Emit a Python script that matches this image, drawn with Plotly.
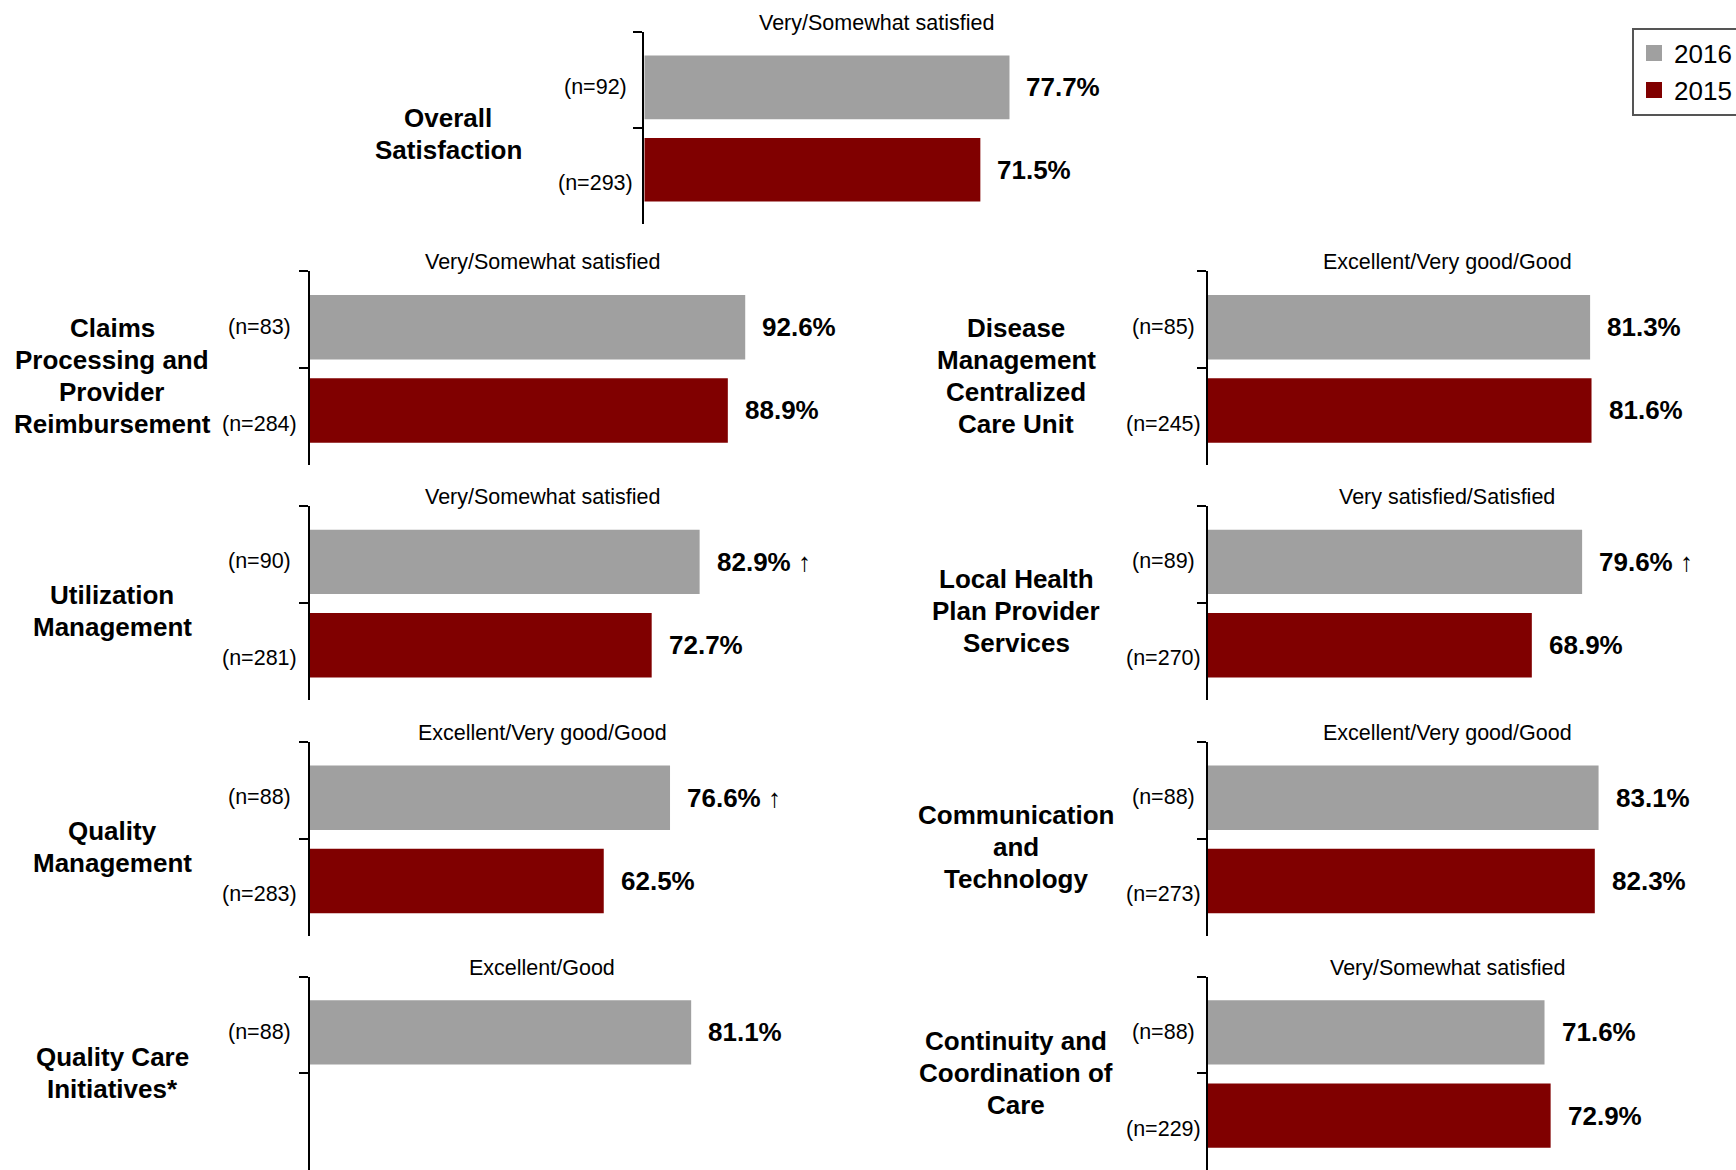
import plotly.graph_objects as go

# ---- data -------------------------------------------------------------
panel_names = [
    "Overall<br>Satisfaction",
    "Claims<br>Processing and<br>Provider<br>Reimbursement",
    "Disease<br>Management<br>Centralized<br>Care Unit",
    "Utilization<br>Management",
    "Local Health<br>Plan Provider<br>Services",
    "Quality<br>Management",
    "Communication<br>and<br>Technology",
    "Quality Care<br>Initiatives*",
    "Continuity and<br>Coordination of<br>Care",
]
measure_labels = [
    "Very/Somewhat satisfied",
    "Very/Somewhat satisfied",
    "Excellent/Very good/Good",
    "Very/Somewhat satisfied",
    "Very satisfied/Satisfied",
    "Excellent/Very good/Good",
    "Excellent/Very good/Good",
    "Excellent/Good",
    "Very/Somewhat satisfied",
]
pct_2016 = [77.7, 92.6, 81.3, 82.9, 79.6, 76.6, 83.1, 81.1, 71.6]
pct_2015 = [71.5, 88.9, 81.6, 72.7, 68.9, 62.5, 82.3, None, 72.9]
n_2016 = [92, 83, 85, 90, 89, 88, 88, 88, 88]
n_2015 = [293, 284, 245, 281, 270, 283, 273, None, 229]
up_2016 = [False, False, False, True, True, True, False, False, False]
years = ["2016", "2015"]

# ---- layout constants --------------------------------------------------
W, H = 1736, 1170
FONT = "Liberation Sans, Arial, sans-serif"
COLORS = {"2016": "#A0A0A0", "2015": "#800000"}
PX_PER_PCT = 4.70

panel_slots = [(0, "mid"), (1, "left"), (1, "right"), (2, "left"), (2, "right"),
               (3, "left"), (3, "right"), (4, "left"), (4, "right")]
columns = {
    "left": dict(axis=310.0, label_dx=-198, n_dx=-51, cap_dx=-3),
    "mid": dict(axis=644.3, label_dx=-196, n_dx=-49, cap_dx=-3),
    "right": dict(axis=1208.0, label_dx=-192, n_dx=-45, cap_dx=4),
}
row_top = [32.1, 271.2, 505.9, 741.8, 976.5]
row_height = [191.5, 193.8, 193.8, 193.8, 193.8]
label_dy = [-6, -8, -8, -8, 0]
LINE_STEP = 32.1  # spacing between lines of a panel name
BAR_W = 0.665
BAR_OFFSET = {"2016": -0.255, "2015": -0.395}

fig = go.Figure()
annotations = []
layout_axes = {}

for i, (row, col) in enumerate(panel_slots):
    k = "" if i == 0 else str(i + 1)
    xa, ya = "x" + k, "y" + k
    cfg = columns[col]
    x0 = cfg["axis"] / W
    x1 = (cfg["axis"] + 100 * PX_PER_PCT) / W
    ytop = 1 - row_top[row] / H
    ybot = max(0.0, 1 - (row_top[row] + row_height[row]) / H)

    layout_axes["xaxis" + k] = dict(domain=[x0, x1], range=[0, 100], visible=False,
                                    anchor=ya, fixedrange=True)
    layout_axes["yaxis" + k] = dict(
        domain=[ybot, ytop], anchor=xa, type="category",
        categoryorder="array", categoryarray=years, range=[1.5, -0.5],
        showline=True, linecolor="black", linewidth=2,
        ticks="outside", tickson="boundaries", ticklen=9, tickwidth=2, tickcolor="black",
        showticklabels=False, showgrid=False, zeroline=False, fixedrange=True,
    )

    vals = {"2016": pct_2016[i], "2015": pct_2015[i]}
    ns = {"2016": n_2016[i], "2015": n_2015[i]}
    for j, yr in enumerate(years):
        v = vals[yr]
        fig.add_trace(go.Bar(
            x=[v], y=[yr], orientation="h", xaxis=xa, yaxis=ya,
            width=[BAR_W], offset=[BAR_OFFSET[yr]],
            marker=dict(color=COLORS[yr], line=dict(width=0)),
            showlegend=False, hoverinfo="skip",
        ))
        if v is None:
            continue
        # value label at the end of the bar
        txt = f"<b>{v:.1f}%</b>"
        if yr == "2016" and up_2016[i]:
            txt += " <b><span style='font-size:26px'>\u2191</span></b>"
        annotations.append(dict(
            x=v, y=j + BAR_OFFSET[yr] + BAR_W / 2, xref=xa, yref=ya,
            text=txt, showarrow=False, xanchor="left", yanchor="middle", xshift=15,
            font=dict(family=FONT, size=26, color="black"),
        ))
        # sample size beside the axis
        annotations.append(dict(
            x=0, y=j, xref=xa + " domain", yref=ya,
            text=f"(n={ns[yr]})", showarrow=False, xanchor="center", yanchor="middle",
            xshift=cfg["n_dx"], yshift=-7,
            font=dict(family=FONT, size=21.5, color="black"),
        ))

    # measure caption above the panel
    annotations.append(dict(
        x=0.5, y=1, xref=xa + " domain", yref=ya + " domain",
        text=measure_labels[i], showarrow=False, xanchor="center", yanchor="middle",
        xshift=cfg["cap_dx"], yshift=9,
        font=dict(family=FONT, size=21.5, color="black"),
    ))
    # panel name on the left, one annotation per line
    lines = panel_names[i].split("<br>")
    for m, line in enumerate(lines):
        dy = ((len(lines) - 1) / 2 - m) * LINE_STEP
        annotations.append(dict(
            x=0, y=0.5, xref=xa + " domain", yref=ya + " domain",
            text=f"<b>{line}</b>", showarrow=False, xanchor="center", yanchor="middle",
            xshift=cfg["label_dx"], yshift=label_dy[row] + dy,
            font=dict(family=FONT, size=26, color="black"),
        ))

# legend entries
for yr in years:
    fig.add_trace(go.Scatter(
        x=[None], y=[None], mode="markers", name=yr, xaxis="x", yaxis="y",
        marker=dict(symbol="square", size=16, color=COLORS[yr]),
    ))

fig.update_layout(
    width=W, height=H,
    margin=dict(l=0, r=0, t=0, b=0, autoexpand=False),
    paper_bgcolor="white", plot_bgcolor="white",
    barmode="overlay",
    font=dict(family=FONT, color="black"),
    showlegend=True,
    legend=dict(
        x=1632 / W, y=1 - 27.7 / H, xanchor="left", yanchor="top",
        bordercolor="#555555", borderwidth=2, bgcolor="white",
        font=dict(family=FONT, size=26, color="black"),
        traceorder="normal", itemclick=False, itemdoubleclick=False,
    ),
    annotations=annotations,
    **layout_axes,
)

fig.write_html("out.html", config={"displayModeBar": False})
